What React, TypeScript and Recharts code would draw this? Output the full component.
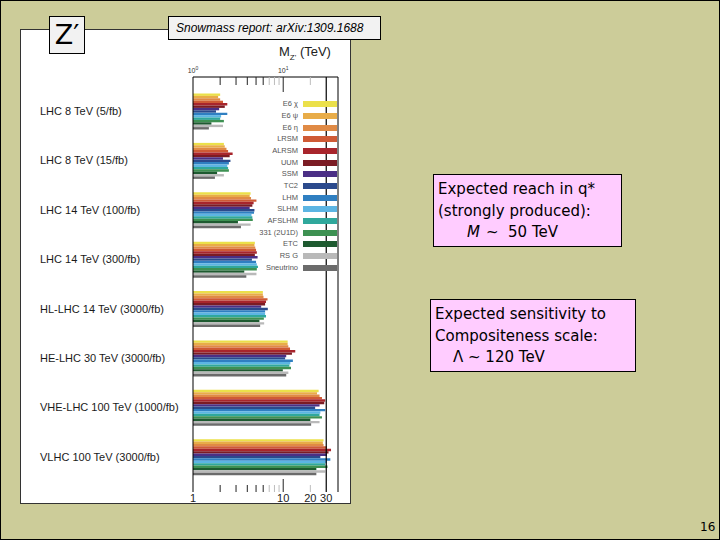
import React from 'react';
import { BarChart, Bar, XAxis, YAxis, ReferenceLine, Legend } from 'recharts';

const categories = [
  'LHC 8 TeV (5/fb)',
  'LHC 8 TeV (15/fb)',
  'LHC 14 TeV (100/fb)',
  'LHC 14 TeV (300/fb)',
  'HL-LHC 14 TeV (3000/fb)',
  'HE-LHC 30 TeV (3000/fb)',
  'VHE-LHC 100 TeV (1000/fb)',
  'VLHC 100 TeV (3000/fb)',
];

const models = ['E6 χ', 'E6 ψ', 'E6 η', 'LRSM', 'ALRSM', 'UUM', 'SSM', 'TC2', 'LHM', 'SLHM', 'AFSLHM', '331 (2U1D)', 'ETC', 'RS G', 'Sneutrino'];
const modelColors = ['#ebe04a', '#e8ac48', '#e08a45', '#cf5a35', '#a8252c', '#7b1c24', '#4b2f85', '#2b4a8c', '#2f7fc1', '#5cb5e3', '#2fa89c', '#3d9152', '#1e5a30', '#b9b9b9', '#6b6b6b'];

// reach in TeV per model, one value per collider scenario (same order as categories)
const e6Chi = [2.0, 2.2, 4.35, 4.85, 5.95, 11.2, 24.7, 28];
const e6Psi = [1.9, 2.25, 4.25, 4.8, 5.95, 11.2, 23.7, 27.5];
const e6Eta = [2.0, 2.35, 4.4, 4.9, 6.05, 11.4, 25.3, 28];
const lrsm = [2.15, 2.45, 5.05, 5.0, 6.7, 11.9, 26.9, 30.5];
const alrsm = [2.4, 2.75, 4.7, 5.1, 6.45, 13.6, 29.2, 33.9];
const uum = [2.25, 2.55, 4.55, 4.85, 6.3, 12.5, 28.5, 31.8];
const ssm = [1.95, 2.15, 4.25, 5.2, 5.7, 10.8, 25.3, 30.5];
const tc2 = [1.8, 2.6, 4.8, 4.5, 6.75, 10.5, 22.6, 25.8];
const lhm = [2.4, 2.5, 4.75, 5.0, 6.3, 12.8, 29.2, 33.3];
const slhm = [2.05, 2.4, 4.45, 5.1, 6.3, 12.0, 25.8, 30.5];
const afslhm = [2.0, 2.45, 4.55, 5.25, 6.45, 11.7, 25.3, 29.2];
const m331 = [2.2, 2.5, 4.6, 5.1, 6.1, 12.2, 26.9, 31];
const etc = [1.6, 1.85, 3.15, 3.7, 5.45, 9.9, 20.0, 23.3];
const rsg = [2.15, 2.2, 4.35, 5.05, 6.15, 11.4, 25.3, 29.2];
const sneutrino = [1.5, 1.75, 3.4, 3.9, 5.55, 10.8, 20.4, 23.3];

const series = [e6Chi, e6Psi, e6Eta, lrsm, alrsm, uum, ssm, tc2, lhm, slhm, afslhm, m331, etc, rsg, sneutrino];

const axisTicks = [1, 2, 3, 4, 5, 6, 7, 8, 9, 10, 20, 30];
const bottomLabels = [1, 10, 20, 30];
const grayTicks = [7, 8, 9, 20];

const rows = categories.map((c, ci) => {
  const r: any = { name: c };
  series.forEach((s, si) => {
    r['m' + si] = s[ci];
  });
  return r;
});

const TopTick = (props: any) => {
  const { x, y, payload } = props;
  const v = payload.value;
  const len = v === 10 ? 15 : 8;
  const color = grayTicks.includes(v) ? '#bdbdbd' : '#222';
  return (
    <g>
      {v !== 1 && v !== 30 && <line x1={x} y1={y} x2={x} y2={y + len} stroke={color} strokeWidth={1} />}
      {(v === 1 || v === 10) && (
        <text x={x} y={y - 4} textAnchor="middle" fontSize={7} fontFamily="Liberation Sans" fill="#333">
          10<tspan dy={-3} fontSize={5}>{v === 1 ? '0' : '1'}</tspan>
        </text>
      )}
    </g>
  );
};

const BottomTick = (props: any) => {
  const { x, y, payload } = props;
  const v = payload.value;
  const len = v === 10 ? 13 : 7;
  const color = grayTicks.includes(v) ? '#bdbdbd' : '#222';
  return (
    <g>
      {v !== 1 && v !== 30 && <line x1={x} y1={y} x2={x} y2={y - len} stroke={color} strokeWidth={1} />}
      {bottomLabels.includes(v) && (
        <text x={x} y={y + 10} textAnchor="middle" fontSize={11} fontFamily="Liberation Sans" fill="#222">
          {v}
        </text>
      )}
    </g>
  );
};

const CategoryTick = (props: any) => {
  const { x, y, payload } = props;
  return (
    <text x={x - 153} y={y} dy="0.35em" textAnchor="start" fontSize={11} fontFamily="Liberation Sans" fill="#1a1a1a">
      {payload.value}
    </text>
  );
};

const LegendContent = (props: any) => {
  const payload = props.payload || [];
  const items = models.map((m, i) => {
    const p = payload.find((q: any) => q.value === m);
    return { name: m, color: p ? p.color : modelColors[i] };
  });
  return (
    <div style={{ width: 110 }}>
      {items.map((it) => (
        <div key={it.name} style={{ display: 'flex', alignItems: 'center', justifyContent: 'flex-end', height: 11.67 }}>
          <span style={{ fontFamily: 'Liberation Sans', fontSize: 7.5, color: '#555', marginRight: 5, lineHeight: '8px' }}>{it.name}</span>
          <span style={{ width: 34, height: 6, background: it.color, display: 'inline-block' }} />
        </div>
      ))}
    </div>
  );
};

const boxText: React.CSSProperties = {
  position: 'absolute',
  background: '#ffccff',
  border: '1px solid #000',
  boxSizing: 'border-box',
  fontFamily: 'DejaVu Sans',
  fontSize: 15,
  lineHeight: '21.5px',
  color: '#000',
  padding: '4px 0 0 4px',
  whiteSpace: 'pre',
};

export default function App() {
  return (
    <div
      style={{
        position: 'absolute',
        left: 0,
        top: 0,
        width: 720,
        height: 540,
        background: '#cccc99',
        border: '1px solid #000',
        boxSizing: 'border-box',
        overflow: 'hidden',
      }}
    >
      <div
        style={{
          position: 'absolute',
          left: 19,
          top: 28,
          width: 331,
          height: 475,
          background: '#fff',
          border: '1px solid #333',
          boxSizing: 'border-box',
        }}
      />
      <div
        style={{
          position: 'absolute',
          left: 278,
          top: 43,
          fontFamily: 'Liberation Sans',
          fontSize: 13,
          color: '#222',
          whiteSpace: 'pre',
        }}
      >
        M<sub style={{ fontSize: 8 }}>Z'</sub> (TeV)
      </div>
      <div style={{ position: 'absolute', left: -1, top: -1 }}>
        <BarChart
          width={720}
          height={540}
          data={rows}
          layout="vertical"
          barGap={0}
          margin={{ top: 0, right: 0, bottom: 0, left: 0 }}
        >
          <XAxis
            xAxisId="bottom"
            orientation="bottom"
            type="number"
            scale="log"
            domain={[1, 40.5]}
            allowDataOverflow
            ticks={axisTicks}
            interval={0}
            height={48}
            tickSize={0}
            tickMargin={0}
            tickLine={false}
            axisLine={false}
            tick={<BottomTick />}
          />
          <XAxis
            xAxisId="top"
            orientation="top"
            type="number"
            scale="log"
            domain={[1, 40.5]}
            allowDataOverflow
            ticks={axisTicks}
            interval={0}
            height={77}
            tickSize={0}
            tickMargin={0}
            tickLine={false}
            axisLine={{ stroke: '#000', strokeWidth: 1 }}
            tick={<TopTick />}
          />
          <YAxis
            yAxisId="left"
            type="category"
            dataKey="name"
            width={193}
            padding={{ top: 9.5, bottom: 10.5 }}
            tickSize={0}
            tickMargin={0}
            tickLine={false}
            interval={0}
            axisLine={{ stroke: '#000', strokeWidth: 1 }}
            tick={<CategoryTick />}
          />
          <YAxis
            yAxisId="right"
            orientation="right"
            type="category"
            dataKey="name"
            width={382}
            tick={false}
            tickLine={false}
            axisLine={{ stroke: '#000', strokeWidth: 1 }}
          />
          {models.map((m, i) => (
            <Bar
              key={m}
              dataKey={'m' + i}
              name={m}
              fill={modelColors[i]}
              xAxisId="bottom"
              yAxisId="left"
              barSize={2.4}
              isAnimationActive={false}
            />
          ))}
          <ReferenceLine x={30} xAxisId="bottom" yAxisId="left" stroke="#000" strokeWidth={1.2} />
          <Legend
            layout="vertical"
            align="center"
            verticalAlign="middle"
            content={<LegendContent />}
            wrapperStyle={{ position: 'absolute', left: 227, top: 98.5, width: 110, margin: 0 }}
          />
        </BarChart>
      </div>

      <div
        style={{
          position: 'absolute',
          left: 48,
          top: 15,
          width: 36,
          height: 38,
          background: '#f2f2f2',
          border: '1px solid #000',
          boxSizing: 'border-box',
          fontFamily: 'DejaVu Sans',
          fontSize: 27,
          lineHeight: '36px',
          textAlign: 'center',
          color: '#000',
        }}
      >
        Z′
      </div>
      <div
        style={{
          position: 'absolute',
          left: 167,
          top: 15,
          width: 213,
          height: 24,
          background: '#f2f2f2',
          border: '1px solid #000',
          boxSizing: 'border-box',
          fontFamily: 'Liberation Sans',
          fontStyle: 'italic',
          fontSize: 12,
          lineHeight: '22px',
          paddingLeft: 7,
          color: '#000',
          whiteSpace: 'pre',
        }}
      >
        Snowmass report: arXiv:1309.1688
      </div>

      <div style={{ ...boxText, left: 432, top: 173, width: 189, height: 73 }}>
        <div>Expected reach in q*</div>
        <div>(strongly produced):</div>
        <div style={{ paddingLeft: 29 }}>
          <span style={{ fontStyle: 'italic', display: 'inline-block', marginRight: 6 }}>M</span>
          <span>~  50 TeV</span>
        </div>
      </div>
      <div style={{ ...boxText, left: 429, top: 298, width: 206, height: 73 }}>
        <div>Expected sensitivity to</div>
        <div>Compositeness scale:</div>
        <div style={{ paddingLeft: 18 }}>Λ ~ 120 TeV</div>
      </div>

      <div
        style={{
          position: 'absolute',
          left: 699,
          top: 519,
          fontFamily: 'DejaVu Sans',
          fontSize: 12,
          color: '#000',
        }}
      >
        16
      </div>
    </div>
  );
}
